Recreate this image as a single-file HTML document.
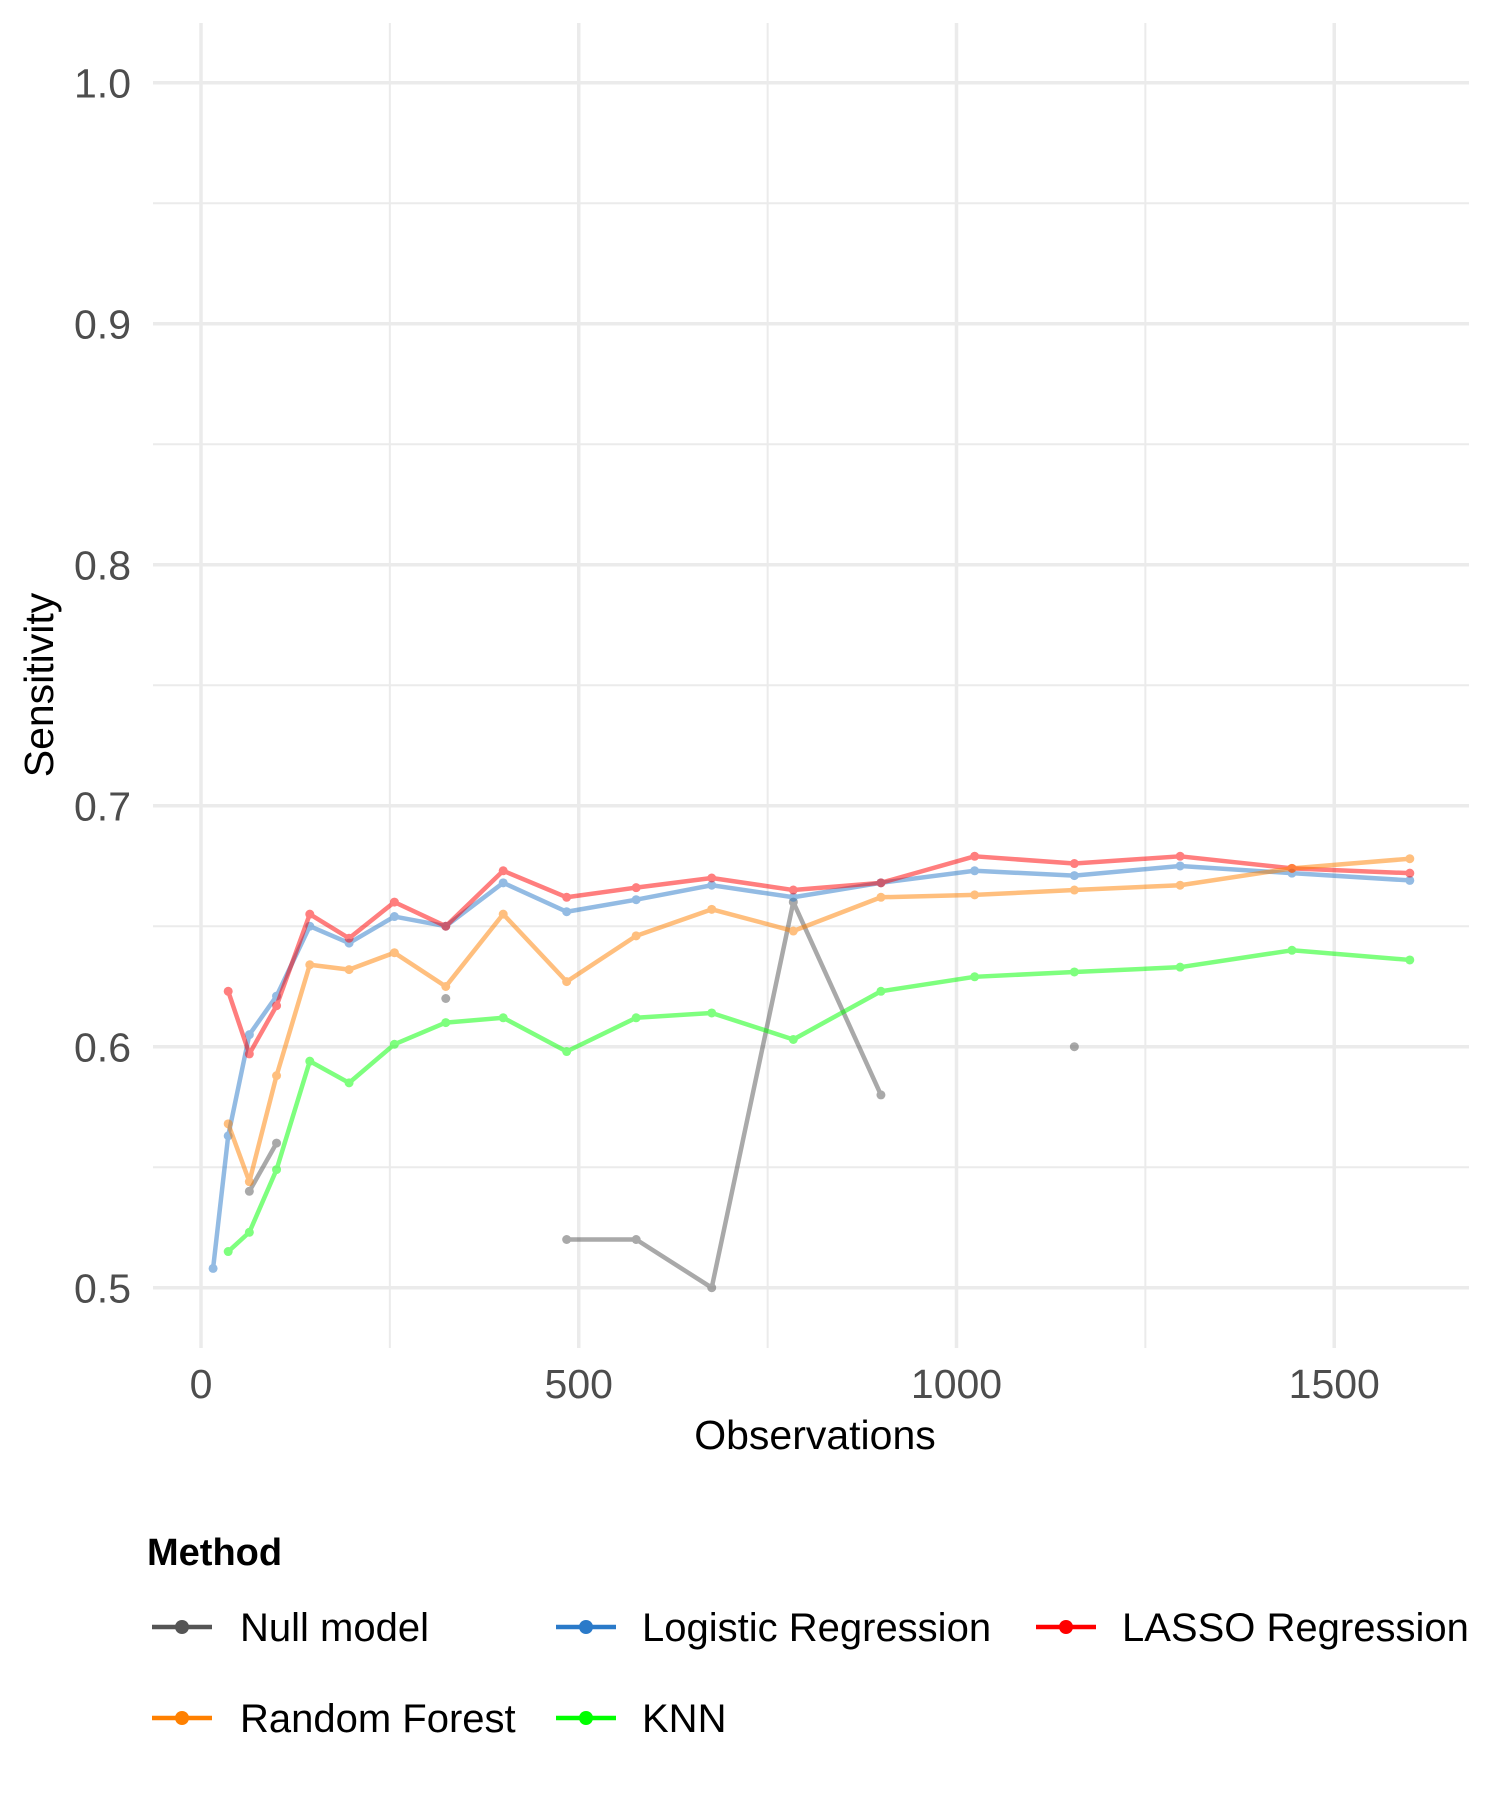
<!DOCTYPE html>
<html><head><meta charset="utf-8"><style>
html,body{margin:0;padding:0;background:#fff;}
svg{display:block;font-family:"Liberation Sans",sans-serif;}
</style></head><body>
<svg id="chart" width="1500" height="1800" viewBox="0 0 1500 1800">
<g id="grid"></g>
<g id="series"></g>
<g id="axes"></g>
<text x="53" y="685" transform="rotate(-90 53 685)" text-anchor="middle" font-size="41" fill="#000">Sensitivity</text>
<text x="815" y="1449" text-anchor="middle" font-size="41" fill="#000">Observations</text>
<text x="147" y="1565" font-size="38" font-weight="bold" fill="#000">Method</text>
<g id="legend"></g>
</svg>
<script>
const xValues = [16,36,64,100,144,196,256,324,400,484,576,676,784,900,1024,1156,1296,1444,1600];
const nullModel = [null,null,0.54,0.56,null,null,null,0.62,null,0.52,0.52,0.50,0.66,0.58,null,0.60,null,null,null];
const logistic = [0.508,0.563,0.605,0.621,0.650,0.643,0.654,0.650,0.668,0.656,0.661,0.667,0.662,0.668,0.673,0.671,0.675,0.672,0.669];
const lasso = [null,0.623,0.597,0.617,0.655,0.645,0.660,0.650,0.673,0.662,0.666,0.670,0.665,0.668,0.679,0.676,0.679,0.674,0.672];
const randomForest = [null,0.568,0.544,0.588,0.634,0.632,0.639,0.625,0.655,0.627,0.646,0.657,0.648,0.662,0.663,0.665,0.667,0.674,0.678];
const knn = [null,0.515,0.523,0.549,0.594,0.585,0.601,0.610,0.612,0.598,0.612,0.614,0.603,0.623,0.629,0.631,0.633,0.640,0.636];
const xTicks = [0,500,1000,1500];
const xMinor = [250,750,1250];
const yTicks = [0.5,0.6,0.7,0.8,0.9,1.0];
const yMinor = [0.55,0.65,0.75,0.85,0.95];
const seriesNames = ["Null model","Logistic Regression","LASSO Regression","Random Forest","KNN"];
const seriesColors = ["#555555","#2a7ac9","#ff0000","#ff8000","#00ff00"];

const NS="http://www.w3.org/2000/svg";
const px0=153, px1=1469, py0=23, py1=1348;
function sx(v){return 201 + v*0.7555;}
function sy(v){return 1287.7 - (v-0.5)*2410;}
function mk(tag,attrs,parent){const e=document.createElementNS(NS,tag);for(const k in attrs)e.setAttribute(k,attrs[k]);parent.appendChild(e);return e;}
const grid=document.getElementById('grid'), axes=document.getElementById('axes'), sg=document.getElementById('series'), lg=document.getElementById('legend');

yMinor.forEach(v=>{const l=mk('line',{x1:px0,x2:px1,y1:sy(v),y2:sy(v),stroke:'#ebebeb','stroke-width':2},grid);

});
xMinor.forEach(v=>{const l=mk('line',{x1:sx(v),x2:sx(v),y1:py0,y2:py1,stroke:'#ebebeb','stroke-width':2},grid);

});
yTicks.forEach(v=>{const l=mk('line',{x1:px0,x2:px1,y1:sy(v),y2:sy(v),stroke:'#ebebeb','stroke-width':3.5},grid);


const t=mk('text',{x:131,y:sy(v)+15,'text-anchor':'end','font-size':41,fill:'#4d4d4d'},axes);
t.textContent=v.toFixed(1);

});
xTicks.forEach(v=>{const l=mk('line',{x1:sx(v),x2:sx(v),y1:py0,y2:py1,stroke:'#ebebeb','stroke-width':3.5},grid);


const t=mk('text',{x:sx(v),y:1398,'text-anchor':'middle','font-size':41,fill:'#4d4d4d'},axes);
t.textContent=String(v);

});

const allSeries=[nullModel,logistic,lasso,randomForest,knn];
allSeries.forEach((arr,si)=>{
  const g=mk('g',{opacity:0.5},sg);
  
  
  let seg=[];
  const flush=()=>{if(seg.length>1){const p=mk('polyline',{points:seg.map(q=>q.join(',')).join(' '),fill:'none',stroke:seriesColors[si],'stroke-width':4.5,'stroke-linejoin':'round'},g);
    
    }seg=[];};
  arr.forEach((v,i)=>{if(v===null){flush();return;}seg.push([sx(xValues[i]),sy(v)]);});
  flush();
  arr.forEach((v,i)=>{if(v===null)return;const c=mk('circle',{cx:sx(xValues[i]),cy:sy(v),r:4.5,fill:seriesColors[si]},g);
    
    });
});

const legPos=[[152,1627,240],[556,1627,642],[1036,1627,1122],[152,1718,240],[556,1718,642]];
seriesNames.forEach((n,i)=>{
  const [kx,ky,tx]=legPos[i];
  const g=mk('g',{},lg);
  
  
  mk('line',{x1:kx,x2:kx+60,y1:ky,y2:ky,stroke:seriesColors[i],'stroke-width':4.5},g);
  mk('circle',{cx:kx+30,cy:ky,r:7,fill:seriesColors[i]},g);
  const t=mk('text',{x:tx,y:ky+14,'font-size':40,fill:'#000'},g);
  t.textContent=n;
});
</script>
</body></html>
